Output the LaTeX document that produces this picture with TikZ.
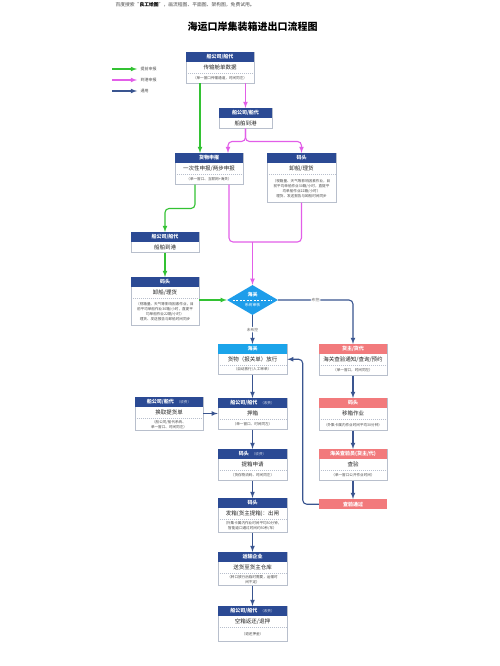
\documentclass[tikz,border=0pt]{standalone}
\usepackage{fontspec}
\setmainfont{Noto Sans CJK SC}
\usetikzlibrary{shapes.geometric,calc}

\definecolor{hdblue}{RGB}{43,74,148}
\definecolor{hdcyan}{RGB}{27,164,234}
\definecolor{hdpink}{RGB}{242,122,124}
\definecolor{dmblue}{RGB}{30,157,234}
\definecolor{boxgrey}{RGB}{184,191,204}
\definecolor{lngreen}{RGB}{51,194,51}
\definecolor{lnpink}{RGB}{226,94,232}
\definecolor{lnblue}{RGB}{58,85,144}

% box with header, main line and a note under a dashed rule
\newcommand{\flowbox}[9][]{%
  \node[box, minimum height=#5pt, #1] (#2) at (#3,#4) {};
  \fill[#6] (#2.north west) rectangle ([yshift=-10pt]#2.north east);
  \node[headtxt] (#2-h) at ([yshift=-5pt]#2.north) {#7};
  \node[bodytxt] (#2-b) at ([yshift=-15.5pt]#2.north) {#8};
  \draw[sepline] ([yshift=-21pt]#2.north west) -- ([yshift=-21pt]#2.north east);
  \node[subtxt] (#2-s) at ($([yshift=-21pt]#2.north)!0.5!(#2.south)$) {#9};
}
% box with header and main line only
\newcommand{\shortbox}[7][]{%
  \node[box, minimum height=#5pt, #1] (#2) at (#3,#4) {};
  \fill[#6] (#2.north west) rectangle ([yshift=-10pt]#2.north east);
  \node[headtxt] (#2-h) at ([yshift=-5pt]#2.north) {#7};
  \node[bodytxt] (#2-b) at ([yshift=-15pt]#2.north) {船舶到港};
}
\newcommand{\feetag}{\hspace{3pt}{\fontsize{3.6}{4}\selectfont\mdseries\color{white!75!hdblue}（收费）}}

\begin{document}
\begin{tikzpicture}[x=1pt, y=-1pt, >=latex,
  box/.style={draw=boxgrey, line width=0.5pt, fill=white, anchor=north, minimum width=68pt, inner sep=0pt},
  headtxt/.style={text=white, font=\fontsize{5}{6}\selectfont\bfseries, inner sep=0pt},
  bodytxt/.style={text=black!85, font=\fontsize{5.5}{6}\selectfont, inner sep=0pt},
  subtxt/.style={text=black!70, font=\fontsize{3.6}{5}\selectfont, align=center, inner sep=0pt},
  sepline/.style={boxgrey, line width=0.3pt, dash pattern=on 1pt off 1pt},
  flow/.style={->, line width=1.1pt, rounded corners=4pt},
  early/.style={flow, lngreen},
  late/.style={flow, lnpink},
  common/.style={flow, lnblue},
  lbl/.style={fill=white, text=black!60, font=\fontsize{3.8}{4}\selectfont, inner sep=1pt}]

  \fill[white] (0,0) rectangle (500,666);
  \useasboundingbox (0,0) rectangle (500,666);

  \node[anchor=west, text=black!70, font=\fontsize{4.8}{5}\selectfont] (ad) at (112,5)
  {百度搜索“{\bfseries\color{black}良工绘图}”，画流程图、平面图、架构图，免费试用。};
  \node[font=\fontsize{10}{12}\selectfont\bfseries] (title) at (252.5,27) {海运口岸集装箱进出口流程图};

  % legend
  \node[anchor=west, font=\fontsize{4}{5}\selectfont, text=black!70] (lg1) at (137,69) {提前申报};
  \node[anchor=west, font=\fontsize{4}{5}\selectfont, text=black!70] (lg2) at (137,80) {到港申报};
  \node[anchor=west, font=\fontsize{4}{5}\selectfont, text=black!70] (lg3) at (137,91) {通用};
  \coordinate (lg1s) at (112,69);
  \coordinate (lg2s) at (112,80);
  \coordinate (lg3s) at (112,91);
  \draw[early] (lg1s) -- (lg1.west);
  \draw[late] (lg2s) -- (lg2.west);
  \draw[common] (lg3s) -- (lg3.west);

  % arrival side
  \flowbox{ship}{220}{52}{31}{hdblue}{船公司/船代}{传输舱单数据}{（单一窗口传输通道，时间同左）}
  \shortbox[minimum width=53pt]{arrive}{245.5}{108}{20}{hdblue}{船公司/船代}
  \flowbox{declare}{209}{153}{31}{hdblue}{货物申报}{一次性申报/两步申报}{（单一窗口、互联网+海关）}
  \flowbox[minimum width=69pt]{unloadA}{301.5}{153}{49}{hdblue}{码头}{卸船/理货}
  {（视箱量、天气等影响因素作业，目\\前平均单船作业30箱/小时，直提平\\均单船作业22箱/小时）\\理货、发送报告与卸船时间同步}
  \shortbox{arriveB}{165}{232}{20}{hdblue}{船公司/船代}
  \flowbox{unloadB}{165}{277}{48}{hdblue}{码头}{卸船/理货}
  {（视箱量、天气等影响因素作业，目\\前平均单船作业30箱/小时，直提平\\均单船作业22箱/小时）\\理货、发送报告与卸船时间同步}

  % customs decision
  \node[diamond, fill=dmblue, minimum width=51pt, minimum height=30pt, aspect=1.7, inner sep=0pt] (check) at (252.5,300) {};
  \node[headtxt] (check-t) at (252.5,294.5) {海关};
  \draw[white, line width=0.6pt, dash pattern=on 2pt off 1.5pt] ([xshift=6pt]check.west) -- ([xshift=-6pt]check.east);
  \node[text=white, font=\fontsize{3.8}{4}\selectfont, inner sep=0pt] (check-b) at (252.5,305.5) {系统审核};
  \coordinate (merge) at (252.5,242);

  % release and pickup
  \flowbox[minimum width=69pt]{release}{252.5}{344}{30}{hdcyan}{海关}{货物（报关单）放行}{（自动放行/人工审单）}
  \flowbox{notice}{353}{344}{31}{hdpink}{货主/货代}{海关查验通知/查询/预约}{（单一窗口，时间同左）}
  \flowbox{move}{353}{398}{32}{hdpink}{码头}{移箱作业}{（外集卡属内作业时间平均30分钟）}
  \flowbox{inspect}{353}{449}{31}{hdpink}{海关查验员(货主/代)}{查验}{（单一窗口公开作业时间）}
  \node[box, draw=none, fill=hdpink, minimum height=10pt, text=white, font=\fontsize{5}{6}\selectfont\bfseries] (passed) at (353,499) {查验通过};

  \flowbox{bill}{169}{397}{33}{hdblue}{船公司/船代\feetag}{换取提货单}{（船公司/船代系统、\\单一窗口、时间同左）}
  \flowbox[minimum width=69pt]{deposit}{252.5}{398}{31}{hdblue}{船公司/船代\feetag}{押箱}{（单一窗口、时间同左）}
  \flowbox[minimum width=69pt]{apply}{252.5}{449}{31}{hdblue}{码头\feetag}{提箱申请}{（货存物流码、时间同左）}
  \flowbox[minimum width=69pt]{gate}{252.5}{498}{34}{hdblue}{码头}{发箱(货主提箱)：出闸}{（外集卡属内作业时间平均30分钟，\\智能道口通过时间约50秒/车）}
  \flowbox[minimum width=69pt]{haul}{252.5}{552}{33}{hdblue}{运输企业}{送货至货主仓库}{（转口放行后临时需要，运输时\\间不定）}
  \flowbox[minimum width=69pt]{back}{252.5}{606}{35}{hdblue}{船公司/船代\feetag}{空箱返还/退押}{（退还押金）}

  % declared in advance
  \draw[early] ([xshift=-20pt]ship.south) -- ([xshift=-20pt]ship.south |- declare.north);
  \draw[early] ([xshift=-14pt]declare.south) -- ++(0,24) -| (arriveB.north);
  \draw[early] (arriveB.south) -- (unloadB.north);
  \draw[early] (unloadB.east |- check) -- (check.west);

  % declared on arrival
  \draw[late] (ship.south -| arrive.north) -- (arrive.north);
  \draw[late] (arrive.south) -- ++(0,13) -| ([xshift=19pt]declare.north);
  \draw[late] (arrive.south) -- ++(0,13) -| (unloadA.north);
  \draw[lnpink, line width=1.1pt, rounded corners=4pt] ([xshift=20pt]declare.south) |- (merge) -| (unloadA.south);
  \draw[late] (merge) -- (check.north);

  % common
  \draw[common] (check.east) -| node[lbl, pos=0.25] {布控} (notice.north);
  \draw[common] (check.south) -- node[lbl] {未布控} (release.north);
  \draw[common] (notice.south) -- (move.north);
  \draw[common] (move.south) -- (inspect.north);
  \draw[common] (inspect.south) -- (passed.north);
  \draw[common] (passed.west) -- ++(-16,0) |- (release.east);
  \draw[common] (release.south) -- (deposit.north);
  \draw[common] (bill.east |- deposit-b) -- (deposit.west |- deposit-b);
  \draw[common] (deposit.south) -- (apply.north);
  \draw[common] (apply.south) -- (gate.north);
  \draw[common] (gate.south) -- (haul.north);
  \draw[common] (haul.south) -- (back.north);
\end{tikzpicture}
\end{document}
